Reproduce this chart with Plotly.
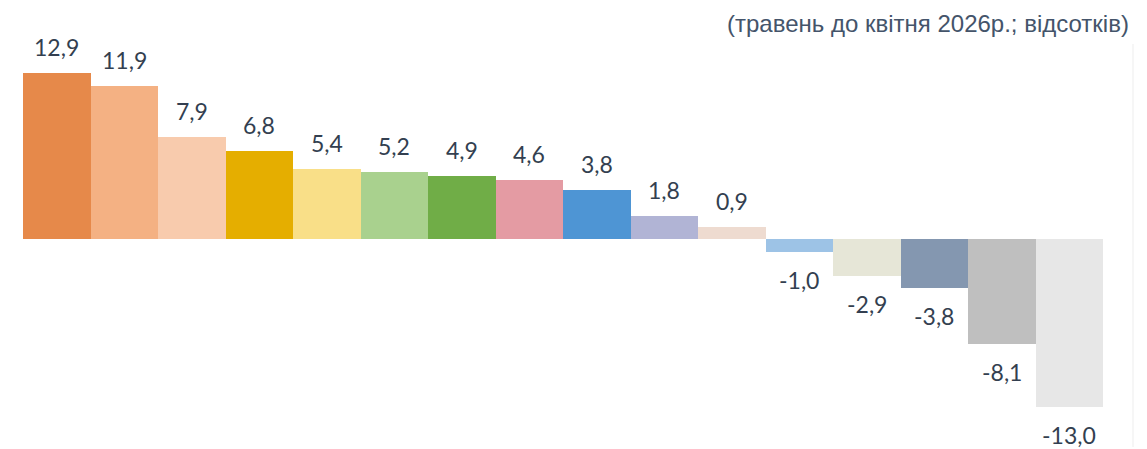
import plotly.graph_objects as go

categories = [f"c{i+1}" for i in range(16)]
values = [12.9, 11.9, 7.9, 6.8, 5.4, 5.2, 4.9, 4.6, 3.8, 1.8, 0.9, -1.0, -2.9, -3.8, -8.1, -13.0]
colors = ["#E6894A", "#F4B183", "#F8CBAD", "#E5AE00", "#F9DF88", "#A9D18E", "#70AD47",
          "#E49BA3", "#4E95D4", "#B1B4D5", "#EEDBD0", "#9DC3E6", "#E6E6D7", "#8497B0",
          "#BFBFBF", "#E7E7E7"]
labels = [f"{v:.1f}".replace(".", ",") for v in values]
title_text = "(травень до квітня 2026р.; відсотків)"

fig = go.Figure(go.Bar(x=categories, y=values, marker=dict(color=colors, line=dict(width=0)),
                       hoverinfo="skip"))

for c, v, t in zip(categories, values, labels):
    fig.add_annotation(x=c, y=v, text=t, showarrow=False,
                       yanchor="bottom" if v >= 0 else "top",
                       yshift=10 if v >= 0 else -12,
                       font=dict(family="Lato, Carlito, sans-serif", size=23, color="#333F50"))

fig.add_annotation(xref="paper", yref="paper", x=1.025, y=1.0426, xanchor="right", yanchor="middle",
                   borderpad=0, text=title_text, showarrow=False,
                   font=dict(family="Liberation Sans, Arial, sans-serif", size=24, color="#44546A"))

fig.add_shape(type="line", xref="paper", yref="paper", x0=1.0278, x1=1.0278, y0=-0.02, y1=0.99,
              line=dict(color="#EDEDED", width=1))

fig.update_layout(
    width=1139, height=441,
    margin=dict(l=15, r=44, t=32, b=10),
    paper_bgcolor="white", plot_bgcolor="white",
    bargap=0, showlegend=False,
    xaxis=dict(visible=False, range=[-0.5, 15.5]),
    yaxis=dict(visible=False, range=[-15.5, 15.43]),
)

fig.write_html("out.html")
